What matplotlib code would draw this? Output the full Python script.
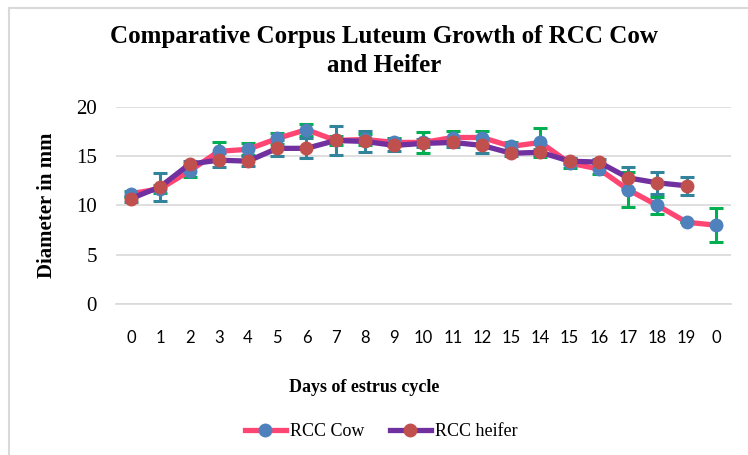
import numpy as np
import matplotlib
matplotlib.use("Agg")
import matplotlib.pyplot as plt
from matplotlib.lines import Line2D

#######################
serif = "Liberation Serif"
sans = "Lato"
pink = "#FF4672"
purple = "#7030A0"
blue = "#4F81BD"
red = "#C0504D"
green = "#00B050"
teal = "#31849B"
grid_col = "#D9D9D9"
########################

days = ['0', '1', '2', '3', '4', '5', '6', '7', '8', '9', '10', '11', '12',
        '15', '14', '15', '16', '17', '18', '19', '0']

cow = [11.2, 11.7, 13.5, 15.5, 15.7, 16.8, 17.7, 16.6, 16.7, 16.4, 16.4,
       16.9, 16.9, 16.0, 16.4, 14.3, 13.7, 11.6, 10.0, 8.3, 8.0]
cow_err = [0.3, 0.4, 0.6, 0.9, 0.6, 0.6, 0.6, 0.5, 0.6, 0.4, 1.1,
           0.7, 0.7, 0.4, 1.5, 0.5, 0.5, 1.8, 0.9, 0.0, 1.7]

heifer = [10.7, 11.9, 14.2, 14.6, 14.5, 15.8, 15.8, 16.6, 16.5, 16.1, 16.3,
          16.4, 16.1, 15.3, 15.4, 14.5, 14.4, 12.8, 12.3, 12.0]
heifer_err = [0.3, 1.4, 0.3, 0.7, 0.5, 0.8, 1.0, 1.5, 1.1, 0.6, 0.4,
              0.5, 0.8, 0.3, 0.3, 0.3, 0.3, 1.1, 1.1, 0.9]

x_cow = np.arange(len(cow))
x_hf = np.arange(len(heifer))

fig = plt.figure(figsize=(7.48, 4.55), dpi=100)
ax = fig.add_axes([0.1556, 0.3319, 0.8211, 0.4330])

# error bars
ax.errorbar(x_cow, cow, yerr=cow_err, fmt='none', ecolor=green,
            elinewidth=2.2, capsize=5, capthick=2.2, zorder=2)
ax.errorbar(x_hf, heifer, yerr=heifer_err, fmt='none', ecolor=teal,
            elinewidth=2.2, capsize=5, capthick=2.2, zorder=2)

# lines + markers
ax.plot(x_cow, cow, color=pink, linewidth=3.8, marker='o', markersize=9,
        markerfacecolor=blue, markeredgecolor=blue, zorder=3)
ax.plot(x_hf, heifer, color=purple, linewidth=3.8, marker='o', markersize=9,
        markerfacecolor=red, markeredgecolor=red, zorder=4)

ax.set_xlim(-0.5, len(days) - 0.5)
ax.set_ylim(0, 20)
ax.set_yticks([0, 5, 10, 15, 20])
ax.set_xticks(x_cow)
ax.set_xticklabels(days, fontfamily=sans, fontsize=12)
for t in ax.get_yticklabels():
    t.set_fontfamily(serif)
    t.set_fontsize(15)
ax.tick_params(axis='both', length=0)
ax.tick_params(axis='x', pad=19)
ax.tick_params(axis='y', pad=14)
ax.grid(axis='y', color=grid_col, linewidth=1.2, zorder=0)
ax.set_axisbelow(True)
for s in ['top', 'right', 'left']:
    ax.spines[s].set_visible(False)
ax.spines['bottom'].set_color(grid_col)
ax.spines['bottom'].set_linewidth(1.2)

fig.text(384 / 748, 1 - 51 / 455, "Comparative Corpus Luteum Growth of RCC Cow\nand Heifer",
         ha='center', va='center', fontfamily=serif, fontweight='bold',
         fontsize=18, linespacing=1.3)
fig.text(47 / 748, 1 - 205 / 455, "Diameter in mm", rotation=90, ha='center',
         va='center', fontfamily=serif, fontweight='bold', fontsize=15)
fig.text(364 / 748, 1 - 387 / 455, "Days of estrus cycle", ha='center',
         va='center', fontfamily=serif, fontweight='bold', fontsize=13)

handles = [Line2D([], [], color=pink, linewidth=3.8, marker='o', markersize=9,
                  markerfacecolor=blue, markeredgecolor=blue),
           Line2D([], [], color=purple, linewidth=3.8, marker='o', markersize=9,
                  markerfacecolor=red, markeredgecolor=red)]
fig.legend(handles, ['RCC Cow', 'RCC heifer'], loc='center',
           bbox_to_anchor=(381 / 748, 1 - 432 / 455), ncol=2, frameon=False,
           prop={'family': serif, 'size': 13}, handlelength=2.3,
           handletextpad=0.2, columnspacing=1.4)

# chart area border (left and top edges visible)
fig.add_artist(Line2D([9 / 748, 9 / 748], [0, 1 - 8 / 455], color=grid_col,
                      linewidth=1.5, transform=fig.transFigure))
fig.add_artist(Line2D([9 / 748, 1], [1 - 8 / 455, 1 - 8 / 455], color=grid_col,
                      linewidth=1.5, transform=fig.transFigure))

fig.savefig("out.png", dpi=100)
